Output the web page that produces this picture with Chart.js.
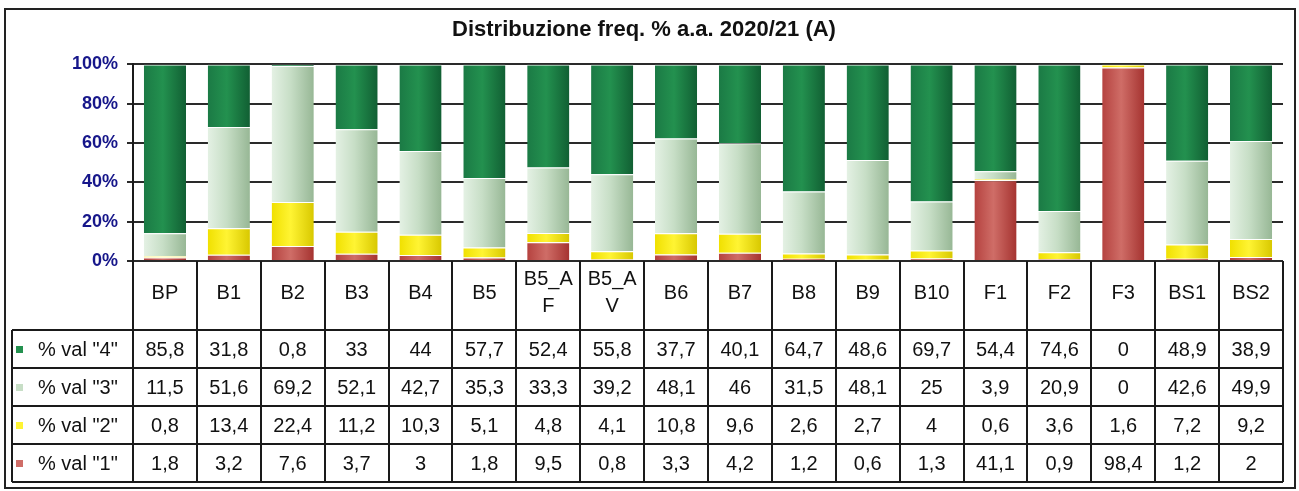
<!DOCTYPE html>
<html>
<head>
<meta charset="utf-8">
<script src="https://cdn.jsdelivr.net/npm/chart.js@4.4.0/dist/chart.umd.min.js"></script>
<style>
  html, body { margin: 0; padding: 0; background: #fff; }
</style>
</head>
<body>
<canvas id="chart" width="1299" height="491"></canvas>
<script>
// data
const categories = ['BP', 'B1', 'B2', 'B3', 'B4', 'B5', 'B5_AF', 'B5_AV', 'B6', 'B7', 'B8', 'B9', 'B10', 'F1', 'F2', 'F3', 'BS1', 'BS2'];
const val4 = [85.8, 31.8, 0.8, 33, 44, 57.7, 52.4, 55.8, 37.7, 40.1, 64.7, 48.6, 69.7, 54.4, 74.6, 0, 48.9, 38.9];
const val3 = [11.5, 51.6, 69.2, 52.1, 42.7, 35.3, 33.3, 39.2, 48.1, 46, 31.5, 48.1, 25, 3.9, 20.9, 0, 42.6, 49.9];
const val2 = [0.8, 13.4, 22.4, 11.2, 10.3, 5.1, 4.8, 4.1, 10.8, 9.6, 2.6, 2.7, 4, 0.6, 3.6, 1.6, 7.2, 9.2];
const val1 = [1.8, 3.2, 7.6, 3.7, 3, 1.8, 9.5, 0.8, 3.3, 4.2, 1.2, 0.6, 1.3, 41.1, 0.9, 98.4, 1.2, 2];
const yTicks = [0, 20, 40, 60, 80, 100];
const seriesNames = ['% val "1"', '% val "2"', '% val "3"', '% val "4"'];

const FONT = "'Liberation Sans', Arial, sans-serif";

// left edge, middle, right edge of each bar (cylinder look)
const shades = [
  ['#b5423f', '#cf6d67', '#a53330'],
  ['#f0e000', '#fff433', '#d8c800'],
  ['#e4f1e4', '#c7dec6', '#97b795'],
  ['#1b7a45', '#23914f', '#115f33']
];

// excel draws 100% stacked, so scale each column to its total
const totals = categories.map((c, i) => val1[i] + val2[i] + val3[i] + val4[i]);
const pct = arr => arr.map((v, i) => v / totals[i] * 100);

function barFill(stops) {
  return ctx => {
    const chart = ctx.chart;
    const xs = chart.scales.x;
    if (ctx.type !== 'data' || !xs || !xs.width) return stops[1];
    const cx = xs.getPixelForValue(ctx.dataIndex);
    const half = xs.width / categories.length * 0.33;
    const g = chart.ctx.createLinearGradient(cx - half, 0, cx + half, 0);
    g.addColorStop(0, stops[0]);
    g.addColorStop(0.45, stops[1]);
    g.addColorStop(1, stops[2]);
    return g;
  };
}

const raw = [val1, val2, val3, val4];
const datasets = raw.map((arr, k) => ({
  label: seriesNames[k],
  data: pct(arr),
  backgroundColor: barFill(shades[k]),
  borderColor: 'rgba(255,255,255,0.85)',
  borderWidth: { top: 1, left: 0, right: 0, bottom: 0 },
  borderSkipped: false,
  categoryPercentage: 1,
  barPercentage: 0.66
}));

const fmt = v => String(v).replace('.', ',');

function wrapText(ctx, text, maxW) {
  const lines = [];
  let cur = '';
  for (const ch of text) {
    if (cur && ctx.measureText(cur + ch).width > maxW) {
      lines.push(cur);
      cur = ch;
    } else cur += ch;
  }
  lines.push(cur);
  return lines;
}

// data table + outer frame
const tablePlugin = {
  id: 'dataTable',
  afterDraw(chart) {
    const ctx = chart.ctx;
    const xs = chart.scales.x;
    const area = chart.chartArea;
    const colW = xs.width / categories.length;
    const headTop = area.bottom;
    const headBottom = 330;
    const rowH = 38;
    const tableLeft = 12;
    const nRows = raw.length;
    const tableBottom = headBottom + rowH * nRows;

    ctx.save();
    ctx.strokeStyle = '#1a1a1a';
    ctx.lineWidth = 2;

    // column lines
    for (let i = 0; i <= categories.length; i++) {
      const x = Math.round(area.left + colW * i);
      ctx.beginPath();
      ctx.moveTo(x, headTop);
      ctx.lineTo(x, tableBottom);
      ctx.stroke();
    }
    // left edge of row header column
    ctx.beginPath();
    ctx.moveTo(tableLeft, headBottom);
    ctx.lineTo(tableLeft, tableBottom);
    ctx.stroke();
    // row lines
    for (let r = 0; r <= nRows; r++) {
      const y = headBottom + rowH * r;
      ctx.beginPath();
      ctx.moveTo(tableLeft, y);
      ctx.lineTo(area.right, y);
      ctx.stroke();
    }

    ctx.fillStyle = '#111';
    ctx.font = '20px ' + FONT;
    ctx.textAlign = 'center';
    ctx.textBaseline = 'middle';

    // category header
    categories.forEach((c, i) => {
      const cx = xs.getPixelForValue(i);
      const lines = wrapText(ctx, c, colW - 10);
      const lh = 27;
      const y0 = 293 - (lines.length - 1) * lh / 2;
      lines.forEach((ln, j) => ctx.fillText(ln, cx, y0 + j * lh));
    });

    // rows: series 4 on top, 1 at bottom
    for (let r = 0; r < nRows; r++) {
      const k = nRows - 1 - r;
      const yc = headBottom + rowH * r + rowH / 2 + 1;
      ctx.fillStyle = shades[k][1];
      ctx.fillRect(16, yc - 4, 7, 7);
      ctx.fillStyle = '#111';
      ctx.textAlign = 'left';
      ctx.fillText(seriesNames[k], 38, yc);
      ctx.textAlign = 'center';
      raw[k].forEach((v, i) => ctx.fillText(fmt(v), xs.getPixelForValue(i), yc));
    }

    // outer frame
    ctx.strokeStyle = '#222';
    ctx.lineWidth = 2;
    ctx.strokeRect(5, 9, 1290, 479);
    ctx.restore();
  }
};

new Chart(document.getElementById('chart'), {
  type: 'bar',
  data: { labels: categories, datasets },
  plugins: [tablePlugin],
  options: {
    responsive: false,
    animation: false,
    layout: { padding: { left: 5, right: 16, top: 11, bottom: 230 } },
    plugins: {
      legend: { display: false },
      tooltip: { enabled: false },
      title: {
        display: true,
        text: 'Distribuzione freq. % a.a. 2020/21 (A)',
        color: '#111',
        font: { family: FONT, size: 22, weight: 'bold' },
        padding: { top: 6, bottom: 21 }
      }
    },
    scales: {
      x: { display: false, stacked: true },
      y: {
        stacked: true,
        min: 0,
        max: 100,
        afterFit: s => { s.width = 128; },
        afterBuildTicks: s => { s.ticks = yTicks.map(v => ({ value: v })); },
        ticks: {
          callback: v => v + '%',
          color: '#16168a',
          padding: 9,
          font: { family: FONT, size: 18, weight: 'bold' }
        },
        grid: { color: '#2a2a2a', lineWidth: 2, tickLength: 6, drawTicks: true },
        border: { display: true, color: '#1a1a1a', width: 2 }
      }
    }
  }
});
</script>
</body>
</html>
